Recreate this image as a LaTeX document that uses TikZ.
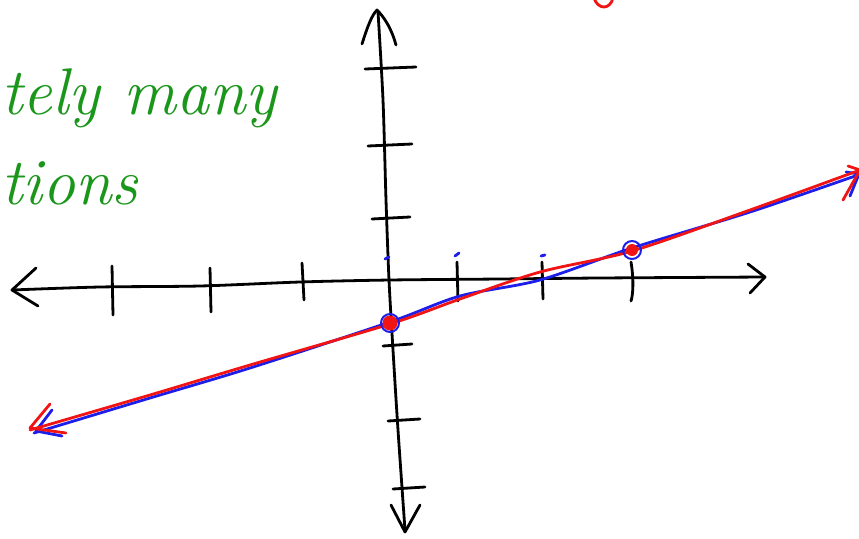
\documentclass[tikz,border=0pt]{standalone}
\usepackage{tikz}
\definecolor{pengreen}{RGB}{26,150,26}
\definecolor{penred}{RGB}{240,20,20}
\definecolor{penblue}{RGB}{30,30,235}
\tikzset{
  ink/.style={line width=2.8pt, line cap=round, line join=round},
  axisline/.style={ink, black},
  redline/.style={ink, penred},
  blueline/.style={ink, penblue},
  greentext/.style={pengreen, inner sep=0pt, anchor=base west, font=\fontsize{66}{68}\selectfont\itshape}
}
\begin{document}
\begin{tikzpicture}[x=1pt,y=-1pt]
\useasboundingbox (0,0) rectangle (859,538);
\clip (0,0) rectangle (859,538);
% green text
\node[greentext] (t1) at (1,114) {tely many};
\node[greentext] (t2) at (1,204) {tions};
% red mark top
\draw[redline] (594,-2) .. controls (598,10) and (610,10) .. (613,-2);
% x axis
\draw[axisline] plot[smooth] coordinates {(12,290) (100,287) (200,286) (300,282) (390,280) (500,279) (600,278) (765,277)};
\draw[axisline] (36,268) -- (12,290) -- (38,306);
\draw[axisline] (748,264) -- (765,277) -- (750,293);
% x ticks
\draw[axisline] (112,266) -- (113,315);
\draw[axisline] (210,268) -- (211,312);
\draw[axisline] (302,263) -- (304,300);
\draw[axisline] (457,262) -- (458,301);
\draw[axisline] (542,262) -- (543,299);
\draw[axisline] (631,262) .. controls (634,280) and (633,295) .. (631,301);
% y axis
\draw[axisline] plot[smooth] coordinates {(378,12) (383,100) (386,200) (389,280) (393,350) (398,430) (405,530)};
\draw[axisline] (362,44) .. controls (368,25) and (372,15) .. (377,10) .. controls (385,18) and (392,30) .. (396,45);
\draw[axisline] (391,505) -- (405,532) -- (420,505);
% y ticks
\draw[axisline] (365,69) -- (416,67);
\draw[axisline] (368,146) -- (412,144);
\draw[axisline] (372,219) -- (410,217);
\draw[axisline] (383,346) -- (412,344);
\draw[axisline] (388,421) -- (420,419);
\draw[axisline] (393,489) -- (425,487);
% blue marks
\draw[blueline] (385,259) -- (389,257);
\draw[blueline] (455,256) -- (459,253);
\draw[blueline] (541,256) -- (545,255);
% blue line
\draw[blueline] plot[smooth] coordinates {(34,433) (150,398) (250,368) (390,322) (460,296) (540,280) (632,248) (750,212) (858,175)};
\draw[blueline] (52,410) -- (36,431) -- (62,436);
\draw[blueline] (846,172) -- (859,174) -- (850,196);
% red line
\draw[redline] plot[smooth] coordinates {(30,430) (150,395) (250,365) (390,324) (460,299) (540,272) (632,251) (750,210) (860,170)};
\draw[redline] (50,404) -- (30,428) -- (66,433);
\draw[redline] (848,166) -- (860,170) -- (843,200);
% points
\coordinate (p1) at (390,323);
\coordinate (p2) at (632,250);
\fill[penred] (p1) circle (7.5);
\draw[blueline, line width=2pt] (p1) circle (9);
\draw[blueline, line width=2pt] (p2) circle (9);
\fill[penred] (p2) circle (6);
\end{tikzpicture}
\end{document}
